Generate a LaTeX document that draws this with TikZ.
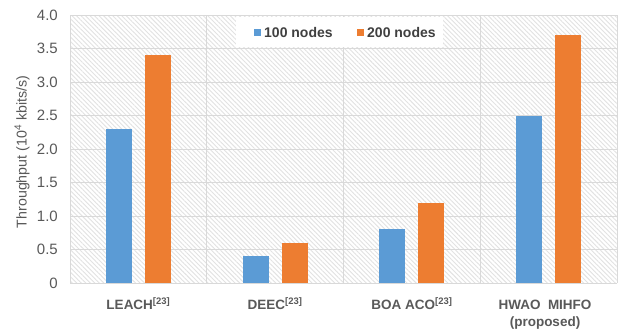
\documentclass[tikz,border=0pt]{standalone}
\usepackage{fontspec}
\setmainfont{Liberation Sans}
\usetikzlibrary{patterns.meta}
\definecolor{barblue}{HTML}{5B9BD5}
\definecolor{barorange}{HTML}{ED7D31}
\definecolor{txtgray}{HTML}{595959}
\definecolor{darktxt}{HTML}{404040}
\definecolor{gridgray}{HTML}{D9D9D9}
\definecolor{hatchgray}{HTML}{E2E2E2}
\begin{document}
\begin{tikzpicture}[x=1pt,y=-1pt,
  gridline/.style={draw=gridgray,line width=1pt},
  ticklbl/.style={anchor=east,font=\fontsize{15}{17}\selectfont,text=txtgray,inner sep=0pt},
  catlbl/.style={font=\bfseries\fontsize{13.5}{17}\selectfont,text=txtgray,align=center,inner sep=0pt},
  bluebar/.style={fill=barblue},
  orangebar/.style={fill=barorange},
  legtxt/.style={font=\bfseries\fontsize{14}{16}\selectfont,text=darktxt,anchor=west,inner sep=0pt},
  axtitle/.style={font=\fontsize{14.2}{16}\selectfont,text=txtgray,rotate=90,inner sep=0pt}]
\useasboundingbox (0,0) rectangle (619,333);
\fill[white] (0,0) rectangle (619,333);
% hatched plot area
\pattern[pattern={Lines[angle=-45,distance=3.2pt,line width=0.9pt]},pattern color=hatchgray] (70,15) rectangle (617,283);
% grid
\foreach \i in {0,...,8} \draw[gridline] (70,{283-33.5*\i}) -- (617,{283-33.5*\i});
\foreach \k in {0,...,4} \draw[gridline] ({70+136.75*\k},15) -- ({70+136.75*\k},283);
% tick labels
\node[ticklbl] (t0) at (58,283) {0};
\node[ticklbl] (t1) at (58,249.5) {0.5};
\node[ticklbl] (t2) at (58,216) {1.0};
\node[ticklbl] (t3) at (58,182.5) {1.5};
\node[ticklbl] (t4) at (58,149) {2.0};
\node[ticklbl] (t5) at (58,115.5) {2.5};
\node[ticklbl] (t6) at (58,82) {3.0};
\node[ticklbl] (t7) at (58,48.5) {3.5};
\node[ticklbl] (t8) at (58,15) {4.0};
\node[axtitle] (ytitle) at (22,152) {Throughput (10\textsuperscript{4} kbits/s)};
% bars: value v -> y = 283 - 67 v
\foreach \c/\a/\b [count=\n] in {138.4/2.3/3.4, 275.1/0.4/0.6, 411.9/0.8/1.2, 548.6/2.5/3.7}{
  \fill[bluebar] ({\c-32.5},283) rectangle ({\c-6.5},{283-67*\a});
  \fill[orangebar] ({\c+6.5},283) rectangle ({\c+32.5},{283-67*\b});
}
% legend
\fill[white] (236,17) rectangle (443,47);
\fill[barblue] (254,29) rectangle (261,36);
\node[legtxt] (l1) at (264,32.5) {100 nodes};
\fill[barorange] (357,29) rectangle (364,36);
\node[legtxt] (l2) at (367,32.5) {200 nodes};
% category labels
\node[catlbl,anchor=base] (c1) at (138.4,309.5) {LEACH\textsuperscript{[23]}};
\node[catlbl,anchor=base] (c2) at (275.1,309.5) {DEEC\textsuperscript{[23]}};
\node[catlbl,anchor=base] (c3) at (411.9,309.5) {BOA ACO\textsuperscript{[23]}};
\node[catlbl,anchor=north] (c4) at (545,299.5) {HWAO\ \ MIHFO\\(proposed)};
\end{tikzpicture}
\end{document}
